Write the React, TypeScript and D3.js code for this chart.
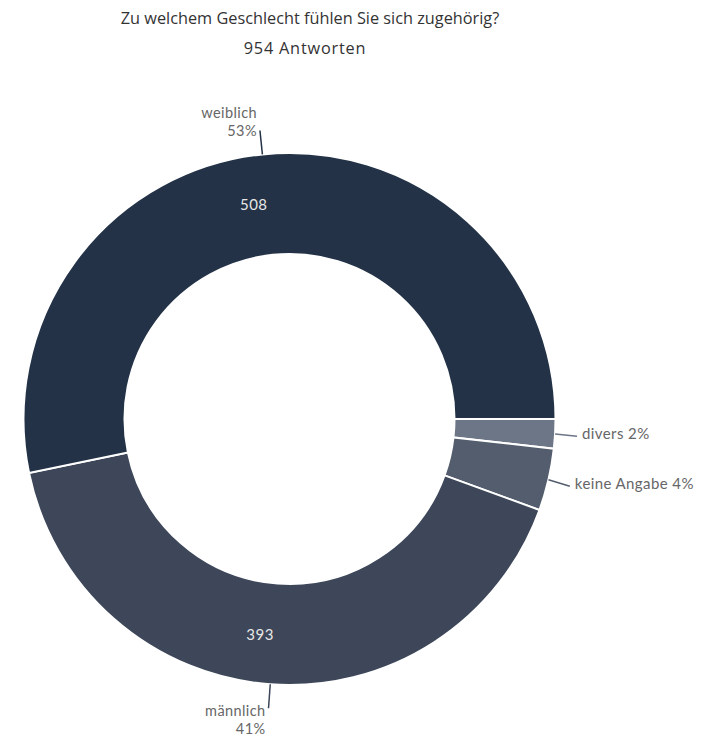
import React from "react";
import * as d3 from "d3";

const title = "Zu welchem Geschlecht fühlen Sie sich zugehörig?";
const subtitle = "954 Antworten";
const categories = ["divers", "keine Angabe", "männlich", "weiblich"];
const values = [17, 36, 393, 508];
const percents = ["2%", "4%", "41%", "53%"];
const colors = ["#6c7687", "#535d6e", "#3d4759", "#233246"];
const lineColors = ["#6c7687", "#535d6e", "#3d4759", "#233246"];
const insideLabels = [false, false, true, true];

export default function App() {
  const W = 706, H = 737;
  const cx = 289.5, cy = 419;
  const outerR = 266, innerR = 165;
  const startA = Math.PI / 2;
  const pie = d3.pie<number>().sort(null).value((d) => d).startAngle(startA).endAngle(startA + 2 * Math.PI);
  const arcs = pie(values);
  const arc = d3.arc<d3.PieArcDatum<number>>().innerRadius(innerR).outerRadius(outerR);
  const labelFont = "Lato, 'Noto Sans', sans-serif";
  const ls = 0.4;

  return (
    <svg width={W} height={H} style={{ position: "absolute", left: 0, top: 0, display: "block", background: "#fff" }}>
      <text x={310} y={24} textAnchor="middle" fontFamily="'Open Sans', sans-serif" fontSize={16.3} fill="#333">{title}</text>
      <text x={305} y={54} textAnchor="middle" fontFamily="'Open Sans', sans-serif" fontSize={16.3} letterSpacing={0.8} fill="#333">{subtitle}</text>
      <g transform={`translate(${cx},${cy})`}>
        {arcs.map((a, i) => (
          <path key={i} d={arc(a) || ""} fill={colors[i]} stroke="#fff" strokeWidth={2} />
        ))}
        {arcs.map((a, i) => {
          if (!insideLabels[i]) return null;
          const mid = (a.startAngle + a.endAngle) / 2;
          const r = (innerR + outerR) / 2;
          const x = r * Math.sin(mid), y = -r * Math.cos(mid);
          return (
            <text key={"in" + i} x={x} y={y + 2} textAnchor="end" dominantBaseline="middle" fontFamily={labelFont} fontSize={15} letterSpacing={0.5} fill="#e6e6e6">{values[i]}</text>
          );
        })}
        {arcs.map((a, i) => {
          const mid = (a.startAngle + a.endAngle) / 2;
          const s = Math.sin(mid), c = -Math.cos(mid);
          const r1 = outerR, r2 = outerR + 24;
          const x1 = r1 * s, y1 = r1 * c, x2 = r2 * s, y2 = r2 * c;
          const side = Math.abs(s) > 0.5;
          if (side) {
            return (
              <g key={"lab" + i}>
                <line x1={x1} y1={y1} x2={x2 - 2} y2={y2 + 1} stroke={lineColors[i]} strokeWidth={1.5} />
                <text x={x2 + 3} y={y2} dominantBaseline="middle" fontFamily={labelFont} fontSize={15} letterSpacing={ls} fill="#666">{categories[i] + " " + percents[i]}</text>
              </g>
            );
          }
          const up = c < 0;
          return (
            <g key={"lab" + i}>
              <line x1={x1} y1={y1} x2={x2} y2={y2} stroke={lineColors[i]} strokeWidth={1.5} />
              {up ? (
                <>
                  <text x={x2 - 3} y={y2 - 12.5} textAnchor="end" fontFamily={labelFont} fontSize={14.5} letterSpacing={ls} fill="#666">{categories[i]}</text>
                  <text x={x2 - 3} y={y2 + 5} textAnchor="end" fontFamily={labelFont} fontSize={14.5} letterSpacing={ls} fill="#666">{percents[i]}</text>
                </>
              ) : (
                <>
                  <text x={x2 - 3} y={y2 + 8} textAnchor="end" fontFamily={labelFont} fontSize={14.5} letterSpacing={ls} fill="#666">{categories[i]}</text>
                  <text x={x2 - 3} y={y2 + 25.5} textAnchor="end" fontFamily={labelFont} fontSize={14.5} letterSpacing={ls} fill="#666">{percents[i]}</text>
                </>
              )}
            </g>
          );
        })}
      </g>
    </svg>
  );
}
